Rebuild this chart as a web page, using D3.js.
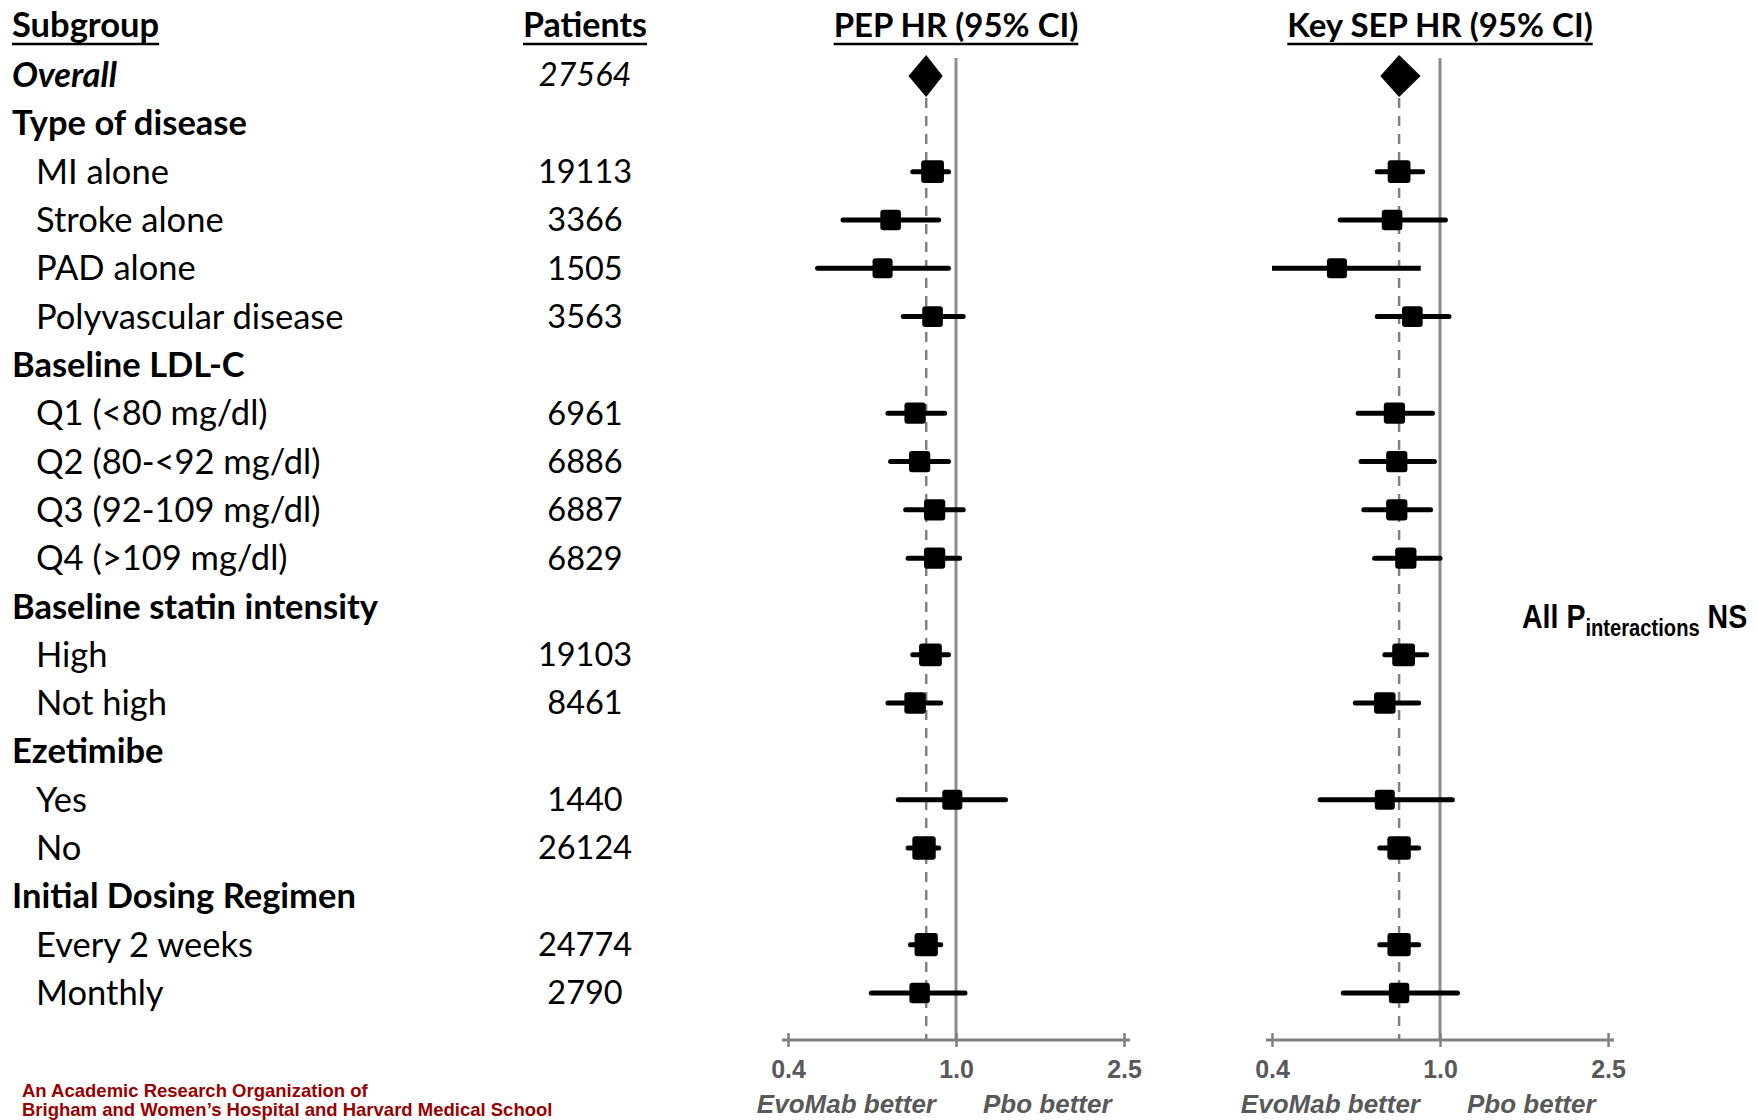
<!DOCTYPE html>
<html>
<head>
<meta charset="utf-8">
<script src="https://cdn.jsdelivr.net/npm/d3@7"></script>
<style>
  body { margin: 0; background: #fff; }
  svg { display: block; }
</style>
</head>
<body>
<div id="main"></div>
<script>
var width = 1757,
    height = 1120;

// rows of the table, top to bottom
var rowLabels = ["Overall", "Type of disease", "MI alone", "Stroke alone", "PAD alone",
  "Polyvascular disease", "Baseline LDL-C", "Q1 (<80 mg/dl)", "Q2 (80-<92 mg/dl)",
  "Q3 (92-109 mg/dl)", "Q4 (>109 mg/dl)", "Baseline statin intensity", "High", "Not high",
  "Ezetimibe", "Yes", "No", "Initial Dosing Regimen", "Every 2 weeks", "Monthly"];
var rowKinds = ["overall", "group", "item", "item", "item", "item", "group", "item", "item",
  "item", "item", "group", "item", "item", "group", "item", "item", "group", "item", "item"];
var patients = ["27564", "", "19113", "3366", "1505", "3563", "", "6961", "6886", "6887", "6829",
  "", "19103", "8461", "", "1440", "26124", "", "24774", "2790"];

// hazard ratios (null on group header rows)
var pepHR = [0.85, null, 0.88, 0.70, 0.67, 0.88, null, 0.80, 0.82, 0.89, 0.89, null, 0.87, 0.80, null, 0.98, 0.84, null, 0.85, 0.82];
var pepLo = [0.78, null, 0.79, 0.54, 0.47, 0.75, null, 0.69, 0.70, 0.76, 0.77, null, 0.79, 0.69, null, 0.73, 0.77, null, 0.78, 0.63];
var pepHi = [0.92, null, 0.96, 0.91, 0.96, 1.04, null, 0.94, 0.96, 1.04, 1.02, null, 0.96, 0.92, null, 1.31, 0.91, null, 0.92, 1.05];

var sepHR = [0.80, null, 0.80, 0.77, 0.57, 0.86, null, 0.78, 0.79, 0.79, 0.83, null, 0.82, 0.74, null, 0.74, 0.80, null, 0.80, 0.80];
var sepLo = [0.73, null, 0.71, 0.58, 0.40, 0.71, null, 0.64, 0.65, 0.66, 0.70, null, 0.74, 0.63, null, 0.52, 0.72, null, 0.72, 0.59];
var sepHi = [0.89, null, 0.91, 1.03, 0.90, 1.05, null, 0.96, 0.97, 0.95, 1.00, null, 0.93, 0.89, null, 1.07, 0.89, null, 0.89, 1.10];

var tickValues = [0.4, 1.0, 2.5];

var svg = d3.select("#main")
  .append("svg")
  .attr("width", width)
  .attr("height", height)
  .style("background-color", "white");

var y = d3.scalePoint()
  .domain(d3.range(rowLabels.length))
  .range([75, 993]);

// marker size grows a little with subgroup size
var boxSize = d3.scaleSqrt().domain([1400, 27000]).range([20, 23.5]).clamp(true);

var textFont = "Lato, 'Open Sans', sans-serif";
var arial = "'Liberation Sans', Arial, sans-serif";
var axisY = 1040;

// underlined header helper
function header(txt, x, anchor, size) {
  var t = svg.append("text")
    .attr("x", x).attr("y", 25)
    .attr("dy", "0.35em")
    .attr("text-anchor", anchor)
    .style("font-family", textFont)
    .style("font-weight", "bold")
    .style("font-size", size + "px")
    .text(txt);
  var bb = t.node().getBBox();
  svg.append("line")
    .attr("x1", bb.x).attr("x2", bb.x + bb.width)
    .attr("y1", 44).attr("y2", 44)
    .attr("stroke", "#000").attr("stroke-width", 2.5);
}

header("Subgroup", 12, "start", 34.5);
header("Patients", 585, "middle", 34);

// left table
svg.selectAll("text.label")
  .data(rowLabels)
.enter().append("text")
  .attr("class", "label")
  .attr("x", function(d, i){ return rowKinds[i] == "item" ? 36 : 12; })
  .attr("y", function(d, i){ return y(i); })
  .attr("dy", "0.35em")
  .style("font-family", textFont)
  .style("font-size", "34.5px")
  .style("font-weight", function(d, i){ return rowKinds[i] == "item" ? "normal" : "bold"; })
  .style("font-style", function(d, i){ return rowKinds[i] == "overall" ? "italic" : "normal"; })
  .text(function(d){ return d; });

svg.selectAll("text.pts")
  .data(patients)
.enter().append("text")
  .attr("class", "pts")
  .attr("x", 585)
  .attr("y", function(d, i){ return y(i); })
  .attr("dy", "0.35em")
  .attr("text-anchor", "middle")
  .style("font-family", textFont)
  .style("font-size", "32.5px")
  .style("font-style", function(d, i){ return rowKinds[i] == "overall" ? "italic" : "normal"; })
  .text(function(d){ return d; });

// one forest panel
function panel(title, range, hr, lo, hi) {
  var x = d3.scaleLog().domain([0.4, 2.5]).range(range);
  var g = svg.append("g");

  header(title, x(1), "middle", 33);

  // reference line at 1
  g.append("line")
    .attr("x1", x(1)).attr("x2", x(1))
    .attr("y1", 58).attr("y2", axisY)
    .attr("stroke", "#8c8c8c").attr("stroke-width", 3);

  // dashed line at the overall estimate
  g.append("line")
    .attr("x1", x(hr[0])).attr("x2", x(hr[0]))
    .attr("y1", 98).attr("y2", axisY)
    .attr("stroke", "#808080").attr("stroke-width", 2.5)
    .attr("stroke-dasharray", "10,8");

  // axis
  g.append("line")
    .attr("x1", range[0] - 6).attr("x2", range[1] + 6)
    .attr("y1", axisY).attr("y2", axisY)
    .attr("stroke", "#808080").attr("stroke-width", 3);

  var ax = g.append("g")
    .attr("transform", "translate(0," + axisY + ")")
    .call(d3.axisBottom(x).tickValues(tickValues).tickFormat(d3.format(".1f")).tickSize(0).tickPadding(20));
  ax.select(".domain").remove();
  ax.selectAll(".tick line")
    .attr("y1", -7).attr("y2", 7)
    .attr("stroke", "#808080").attr("stroke-width", 2.5);
  ax.selectAll(".tick text")
    .attr("fill", "#595959")
    .style("font-family", arial)
    .style("font-weight", "bold")
    .style("font-size", "25px");

  g.append("text")
    .attr("x", x(1) - 20).attr("y", 1113)
    .attr("text-anchor", "end")
    .attr("fill", "#595959")
    .style("font-family", arial).style("font-weight", "bold").style("font-style", "italic")
    .style("font-size", "26px")
    .text("EvoMab better");
  g.append("text")
    .attr("x", x(1) + 27).attr("y", 1113)
    .attr("fill", "#595959")
    .style("font-family", arial).style("font-weight", "bold").style("font-style", "italic")
    .style("font-size", "26px")
    .text("Pbo better");

  var idx = d3.range(hr.length).filter(function(i){ return hr[i] != null && i > 0; });

  g.selectAll("line.ci")
    .data(idx)
  .enter().append("line")
    .attr("class", "ci")
    .attr("x1", function(i){ return x(lo[i]); })
    .attr("x2", function(i){ return x(hi[i]); })
    .attr("y1", function(i){ return y(i); })
    .attr("y2", function(i){ return y(i); })
    .attr("stroke", "#000").attr("stroke-width", 5)
    .attr("stroke-linecap", function(i){ return lo[i] <= 0.4 ? "butt" : "round"; });

  g.selectAll("rect.est")
    .data(idx)
  .enter().append("rect")
    .attr("class", "est")
    .attr("x", function(i){ return x(hr[i]) - boxSize(+patients[i]) / 2; })
    .attr("y", function(i){ return y(i) - boxSize(+patients[i]) / 2; })
    .attr("width", function(i){ return boxSize(+patients[i]); })
    .attr("height", function(i){ return boxSize(+patients[i]); })
    .attr("rx", 3)
    .attr("fill", "#000");

  // overall diamond
  var cy = y(0) + 1;
  g.append("path")
    .attr("d", "M" + (x(lo[0]) - 2) + "," + cy + "L" + x(hr[0]) + "," + (cy - 21) +
      "L" + (x(hi[0]) + 2) + "," + cy + "L" + x(hr[0]) + "," + (cy + 21) + "Z")
    .attr("fill", "#000");
}

panel("PEP HR (95% CI)", [788, 1124], pepHR, pepLo, pepHi);
panel("Key SEP HR (95% CI)", [1272, 1608], sepHR, sepLo, sepHi);

// interactions note
var note = svg.append("text")
  .attr("transform", "translate(1522,628) scale(0.84,1)")
  .style("font-family", "'Liberation Sans', Arial, sans-serif")
  .style("font-weight", "bold")
  .style("font-size", "34px")
  .attr("fill", "#000");
note.append("tspan").text("All P");
note.append("tspan").attr("dy", 8).style("font-size", "24px").text("interactions");
note.append("tspan").attr("dy", -8).text(" NS");

// footer
svg.selectAll("text.foot")
  .data(["An Academic Research Organization of", "Brigham and Women\u2019s Hospital and Harvard Medical School"])
.enter().append("text")
  .attr("class", "foot")
  .attr("x", 22)
  .attr("y", function(d, i){ return 1097 + i * 19; })
  .attr("fill", "#990000")
  .style("font-family", arial)
  .style("font-weight", "bold")
  .style("font-size", "18.5px")
  .text(function(d){ return d; });
</script>
</body>
</html>
